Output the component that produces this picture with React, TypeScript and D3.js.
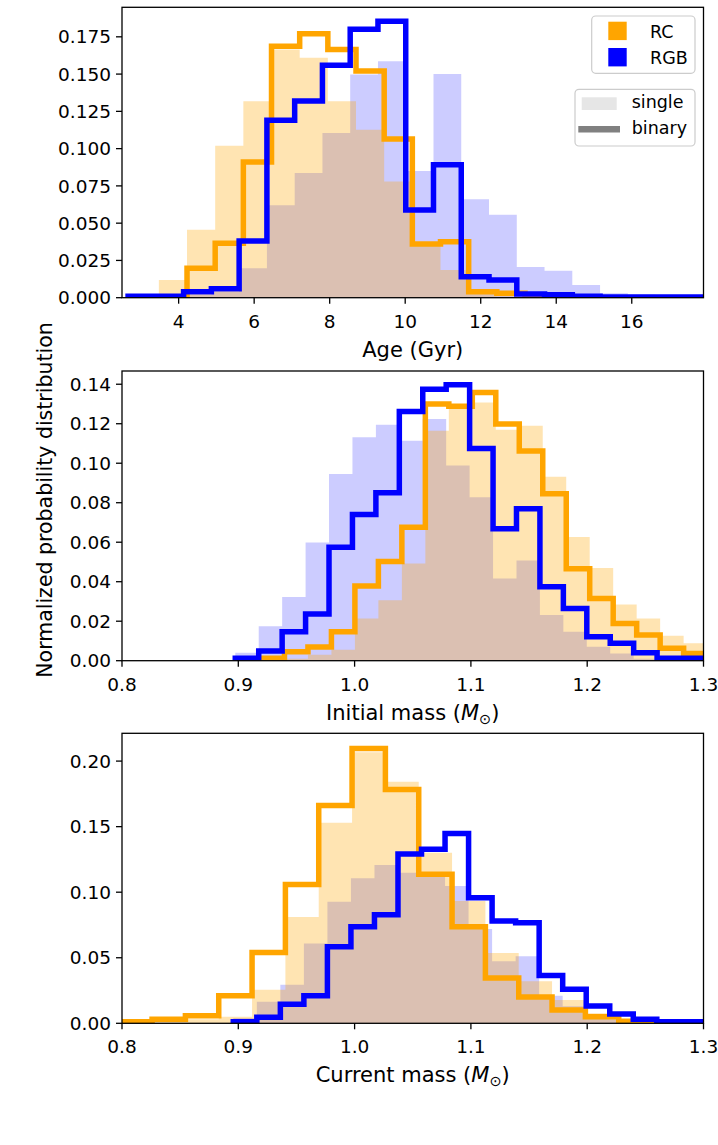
import React from "react";
import * as d3 from "d3";

// ---- data ----
// each histogram: first bin edge, bin width, normalized heights

// Age (Gyr)
const ageRcSingle = [0.0119, 0.0455, 0.102, 0.1317, 0.1665, 0.161, 0.1317, 0.1127, 0.078, 0.035, 0.0185, 0.003, 0.001];
const ageRcBinary = [0.0198, 0.0366, 0.091, 0.1687, 0.177, 0.1665, 0.152, 0.1065, 0.036, 0.0376, 0.004, 0.003, 0.001];
const ageRgbSingle = [0.001, 0.002, 0.002, 0.004, 0.0198, 0.062, 0.0836, 0.1105, 0.1497, 0.1586, 0.085, 0.15, 0.066, 0.0556, 0.0206, 0.018, 0.0085, 0.003, 0.002, 0.001];
const ageRgbBinary = [0.001, 0.001, 0.004, 0.006, 0.038, 0.119, 0.132, 0.156, 0.18, 0.1855, 0.0588, 0.0892, 0.0141, 0.0119, 0.0025, 0.002, 0.001, 0.0005, 0.0005, 0.0005, 0.0005, 0.0005];

// Initial mass (Msun)
const initRcSingle = [0.0005, 0.001, 0.003, 0.0055, 0.0214, 0.0306, 0.0492, 0.1165, 0.1274, 0.1307, 0.117, 0.119, 0.0932, 0.0626, 0.047, 0.0285, 0.0214, 0.0126, 0.0088];
const initRcBinary = [0.0012, 0.0045, 0.007, 0.0146, 0.0378, 0.0502, 0.0676, 0.13, 0.1288, 0.1358, 0.1198, 0.1062, 0.0845, 0.0466, 0.0315, 0.0189, 0.013, 0.0063, 0.0037];
const initRgbSingle = [0.004, 0.0175, 0.0323, 0.0598, 0.0946, 0.1131, 0.1195, 0.1114, 0.1224, 0.0988, 0.0828, 0.0416, 0.0508, 0.0231, 0.0146, 0.0071, 0.0037, 0.001, 0.0005];
const initRgbBinary = [0.0012, 0.0049, 0.0146, 0.0236, 0.0575, 0.074, 0.085, 0.1262, 0.1375, 0.1397, 0.1075, 0.0668, 0.0769, 0.0374, 0.0264, 0.0121, 0.0088, 0.004, 0.0012, 0.0012];

// Current mass (Msun)
const curRcSingle = [0.0005, 0.001, 0.003, 0.005, 0.0255, 0.081, 0.153, 0.2067, 0.1843, 0.13, 0.0933, 0.0537, 0.0321, 0.0178, 0.0076, 0.002];
const curRcBinary = [0.0012, 0.003, 0.0058, 0.0211, 0.054, 0.1058, 0.1662, 0.2097, 0.1783, 0.1136, 0.0736, 0.0346, 0.0201, 0.0102, 0.005, 0.0015];
const curRgbSingle = [0.004, 0.0165, 0.0295, 0.0609, 0.0927, 0.1106, 0.1208, 0.1149, 0.112, 0.1047, 0.072, 0.0474, 0.0512, 0.021, 0.013, 0.006, 0.003, 0.001, 0.0005];
const curRgbBinary = [0.0012, 0.0046, 0.0145, 0.0211, 0.0584, 0.0737, 0.0828, 0.1292, 0.1327, 0.1447, 0.0958, 0.078, 0.0767, 0.0364, 0.026, 0.0132, 0.0071, 0.003, 0.0012, 0.0012];

const ageTicks = [4, 6, 8, 10, 12, 14, 16];
const massTicks = [0.8, 0.9, 1.0, 1.1, 1.2, 1.3];
const ageYTicks = [0, 0.025, 0.05, 0.075, 0.1, 0.125, 0.15, 0.175];
const initYTicks = [0, 0.02, 0.04, 0.06, 0.08, 0.1, 0.12, 0.14];
const curYTicks = [0, 0.05, 0.1, 0.15, 0.2];

const legendPops = ["RC", "RGB"];
const legendKinds = ["single", "binary"];

type Hist = { start: number; width: number; values: number[] };

const panels = [
  {
    xDomain: [2.5, 17.9], yMax: 0.1948, xTicks: ageTicks, yTicks: ageYTicks,
    xFmt: (v: number) => String(v), yFmt: (v: number) => v.toFixed(3),
    label: "Age (Gyr)", sun: false,
    rcSingle: { start: 3.476, width: 0.7459, values: ageRcSingle },
    rcBinary: { start: 4.222, width: 0.7459, values: ageRcBinary },
    rgbSingle: { start: 2.661, width: 0.7353, values: ageRgbSingle },
    rgbBinary: { start: 2.661, width: 0.7353, values: ageRgbBinary },
  },
  {
    xDomain: [0.8, 1.3], yMax: 0.1467, xTicks: massTicks, yTicks: initYTicks,
    xFmt: (v: number) => v.toFixed(1), yFmt: (v: number) => v.toFixed(2),
    label: "Initial mass (", sun: true,
    rcSingle: { start: 0.9195, width: 0.02019, values: initRcSingle },
    rcBinary: { start: 0.9195, width: 0.02019, values: initRcBinary },
    rgbSingle: { start: 0.8974, width: 0.02015, values: initRgbSingle },
    rgbBinary: { start: 0.8974, width: 0.02015, values: initRgbBinary },
  },
  {
    xDomain: [0.8, 1.3], yMax: 0.2212, xTicks: massTicks, yTicks: curYTicks,
    xFmt: (v: number) => v.toFixed(1), yFmt: (v: number) => v.toFixed(2),
    label: "Current mass (", sun: true,
    rcSingle: { start: 0.7972, width: 0.02866, values: curRcSingle },
    rcBinary: { start: 0.7972, width: 0.02866, values: curRcBinary },
    rgbSingle: { start: 0.8957, width: 0.02023, values: curRgbSingle },
    rgbBinary: { start: 0.8957, width: 0.02023, values: curRgbBinary },
  },
];

// ---- layout ----
const W = 718, H = 1145;
const left = 122, right = 703.5;
const tops = [7.3, 371, 733.3];
const bottoms = [297.7, 660.7, 1023.3];
const FONT = "DejaVu Sans";
const ORANGE = "#ffa500", BLUE = "#0000ff";

function stepPoints(h: Hist): [number, number][] {
  const pts: [number, number][] = [[h.start, 0]];
  h.values.forEach((v, i) => {
    const x0 = h.start + i * h.width;
    pts.push([x0, v], [x0 + h.width, v]);
  });
  pts.push([h.start + h.values.length * h.width, 0]);
  return pts;
}

function fillPoints(h: Hist): [number, number][] {
  const pts: [number, number][] = h.values.map((v, i) => [h.start + i * h.width, v]);
  pts.push([h.start + h.values.length * h.width, h.values[h.values.length - 1]]);
  return pts;
}

function Panel({ p, i }: { p: (typeof panels)[number]; i: number }) {
  const top = tops[i], bottom = bottoms[i];
  const x = d3.scaleLinear().domain(p.xDomain).range([left, right]);
  const y = d3.scaleLinear().domain([0, p.yMax]).range([bottom, top]);
  const line = d3.line<[number, number]>().x(d => x(d[0])).y(d => y(d[1]));
  const area = d3.area<[number, number]>()
    .x(d => x(d[0])).y0(y(0)).y1(d => y(d[1])).curve(d3.curveStepAfter);
  const clip = `clip-${i}`;
  const cx = (left + right) / 2;
  return (
    <g>
      <defs>
        <clipPath id={clip}>
          <rect x={left} y={top} width={right - left} height={bottom - top} />
        </clipPath>
      </defs>
      <g clipPath={`url(#${clip})`}>
        <path d={area(fillPoints(p.rgbSingle)) || ""} fill={BLUE} fillOpacity={0.2} />
        <path d={area(fillPoints(p.rcSingle)) || ""} fill={ORANGE} fillOpacity={0.3} />
        <path d={line(stepPoints(p.rcBinary)) || ""} fill="none" stroke={ORANGE} strokeWidth={5.5} strokeLinejoin="miter" />
        <path d={line(stepPoints(p.rgbBinary)) || ""} fill="none" stroke={BLUE} strokeWidth={5.5} strokeLinejoin="miter" />
      </g>
      <rect x={left} y={top} width={right - left} height={bottom - top} fill="none" stroke="#000" strokeWidth={1.3} />
      {p.xTicks.map(t => (
        <g key={`x${t}`}>
          <line x1={x(t)} x2={x(t)} y1={bottom} y2={bottom + 6} stroke="#000" strokeWidth={1.3} />
          <text x={x(t)} y={bottom + 30} textAnchor="middle" fontSize={18.5} fontFamily={FONT}>{p.xFmt(t)}</text>
        </g>
      ))}
      {p.yTicks.map(t => (
        <g key={`y${t}`}>
          <line x1={left - 6} x2={left} y1={y(t)} y2={y(t)} stroke="#000" strokeWidth={1.3} />
          <text x={left - 11} y={y(t)} dy="0.36em" textAnchor="end" fontSize={18.5} fontFamily={FONT}>{p.yFmt(t)}</text>
        </g>
      ))}
      <text x={cx} y={bottom + 59} textAnchor="middle" fontSize={21} fontFamily={FONT}>
        {p.label}
        {p.sun && <tspan fontStyle="italic">M</tspan>}
        {p.sun && <tspan fontSize={14.5} dy={4}>⊙</tspan>}
        {p.sun && <tspan dy={-4}>)</tspan>}
      </text>
    </g>
  );
}

export default function App() {
  document.body.style.margin = "0";
  return (
    <svg width={W} height={H} style={{ position: "absolute", left: 0, top: 0, background: "#fff" }}>
      <rect width={W} height={H} fill="#fff" />
      {panels.map((p, i) => <Panel key={i} p={p} i={i} />)}
      <text transform="translate(52,500) rotate(-90)" textAnchor="middle" fontSize={20.5} fontFamily={FONT}>
        Normalized probability distribution
      </text>
      {/* population legend */}
      <g fontFamily={FONT} fontSize={17.5}>
        <rect x={591.7} y={16} width={103.3} height={57.3} rx={4} fill="#fff" fillOpacity={0.8} stroke="#cccccc" strokeWidth={1.2} />
        {legendPops.map((name, k) => (
          <g key={name}>
            <rect x={608.3} y={21.7 + k * 26.3} width={18.4} height={18.4} fill={k === 0 ? ORANGE : BLUE} />
            <text x={650} y={38.3 + k * 25.3}>{name}</text>
          </g>
        ))}
        <rect x={575} y={89.3} width={120} height={56.7} rx={4} fill="#fff" fillOpacity={0.8} stroke="#cccccc" strokeWidth={1.2} />
        <rect x={581.7} y={97.3} width={35} height={12.7} fill="#e6e6e6" />
        <line x1={578.3} x2={620} y1={129.3} y2={129.3} stroke="#808080" strokeWidth={6.5} />
        {legendKinds.map((name, k) => (
          <text key={name} x={631.7} y={107.6 + k * 26} >{name}</text>
        ))}
      </g>
    </svg>
  );
}
